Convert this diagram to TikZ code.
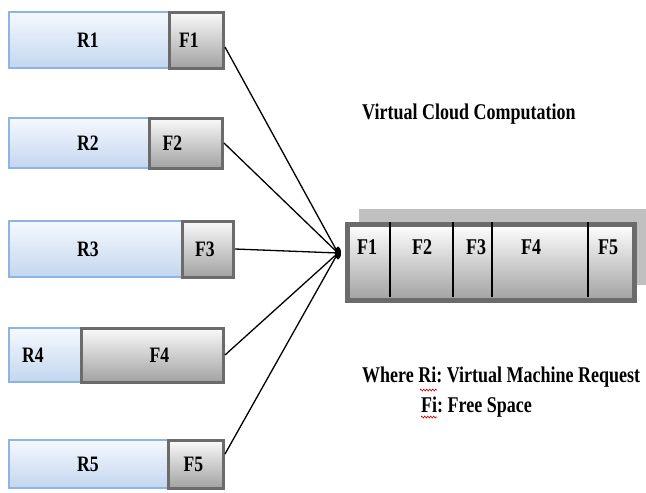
\documentclass[tikz,border=0pt]{standalone}
\usepackage{fontspec}
\setmainfont{Liberation Serif}[FakeStretch=0.8]
\usetikzlibrary{shadows,shapes.geometric,decorations.pathmorphing}
\frenchspacing

\definecolor{reqedge}{HTML}{8EB4E3}
\definecolor{reqtop}{HTML}{F5F9FE}
\definecolor{reqbot}{HTML}{C3D6EF}
\definecolor{freeedge}{HTML}{6B6B6B}
\definecolor{freetop}{HTML}{FAFAFA}
\definecolor{freebot}{HTML}{A2A2A2}
\definecolor{vmshade}{HTML}{C0C0C0}

\tikzset{
  boxtext/.style={font=\fontsize{22}{26}\selectfont\bfseries},
  req/.style={draw=reqedge, line width=2pt, top color=reqtop, bottom color=reqbot, inner sep=0pt},
  free/.style={draw=freeedge, line width=3pt, top color=freetop, bottom color=freebot, inner sep=0pt},
  vmbox/.style={draw=freeedge, line width=5pt, top color=white, bottom color=freebot, inner sep=0pt,
    drop shadow={shadow xshift=11.5pt, shadow yshift=15.5pt, fill=vmshade, opacity=1}},
  divider/.style={line width=2.5pt, black},
  celltext/.style={font=\fontsize{22.5}{26}\selectfont\bfseries, inner sep=0pt},
  note/.style={font=\fontsize{22.5}{26}\selectfont\bfseries, inner sep=0pt, anchor=base west},
  hub/.style={ellipse, fill=black, minimum width=6pt, minimum height=13pt, inner sep=0pt},
  link/.style={line width=1.3pt, black},
  squiggle/.style={red!85!black, line width=0.6pt, decorate, decoration={zigzag, segment length=3pt, amplitude=1pt}}
}

\begin{document}
\begin{tikzpicture}[x=1pt, y=-1pt]
  \useasboundingbox (0,0) rectangle (646,493);

  % requests and their free space
  \node[req, minimum width=160, minimum height=56, anchor=west, label={[boxtext, xshift=-1]center:R1}] (r1) at (8,40) {};
  \node[free, minimum width=54, minimum height=56, anchor=west, label={[boxtext, xshift=-7.5]center:F1}] (f1) at (168,40) {};

  \node[req, minimum width=140, minimum height=50, anchor=west, label={[boxtext, xshift=9]center:R2}] (r2) at (8,143) {};
  \node[free, minimum width=73, minimum height=50, anchor=west, label={[boxtext, xshift=-13.5]center:F2}] (f2) at (148,143) {};

  \node[req, minimum width=173, minimum height=56, anchor=west, label={[boxtext, xshift=-7.5]center:R3}] (r3) at (8,249) {};
  \node[free, minimum width=51, minimum height=56, anchor=west, label={[boxtext, xshift=-3]center:F3}] (f3) at (181,249) {};

  \node[req, minimum width=74, minimum height=54, anchor=west, label={[boxtext, xshift=-13]center:R4}] (r4) at (8,355) {};
  \node[free, minimum width=142, minimum height=54, anchor=west, label={[boxtext, xshift=7]center:F4}] (f4) at (80,355) {};

  \node[req, minimum width=160, minimum height=48, anchor=west, label={[boxtext, xshift=-1]center:R5}] (r5) at (8,464) {};
  \node[free, minimum width=55, minimum height=48, anchor=west, label={[boxtext, xshift=-2.5]center:F5}] (f5) at (167,464) {};

  % the shared machine
  \node[vmbox, minimum width=287, minimum height=76, anchor=north west] (vm) at (344.5,221.5) {};
  \draw[divider] (390,222) -- (390,297);
  \draw[divider] (453,222) -- (453,297);
  \draw[divider] (492,222) -- (492,297);
  \draw[divider] (588,222) -- (588,297);
  \node[celltext] (c1) at (367,247) {F1};
  \node[celltext] (c2) at (422,247) {F2};
  \node[celltext] (c3) at (476,247) {F3};
  \node[celltext] (c4) at (531,247) {F4};
  \node[celltext] (c5) at (608,247) {F5};

  \node[hub] (hub) at (338,253) {};

  \draw[link] ([yshift=-7]f1.east) -- (hub.center);
  \draw[link] (f2.east) -- (hub.center);
  \draw[link] (f3.east) -- (hub.center);
  \draw[link] (f4.east) -- (hub.center);
  \draw[link] ([yshift=10]f5.east) -- (hub.center);

  % texts
  \node[note] (title) at (362,119) {Virtual Cloud Computation};
  \node[note] (where) at (362,382) {Where Ri: Virtual Machine Request};
  \node[note] (fi) at (421,412) {Fi: Free Space};
  \draw[squiggle] (420,390) -- (437,390);
  \draw[squiggle] (421,417) -- (437,417);
\end{tikzpicture}
\end{document}
